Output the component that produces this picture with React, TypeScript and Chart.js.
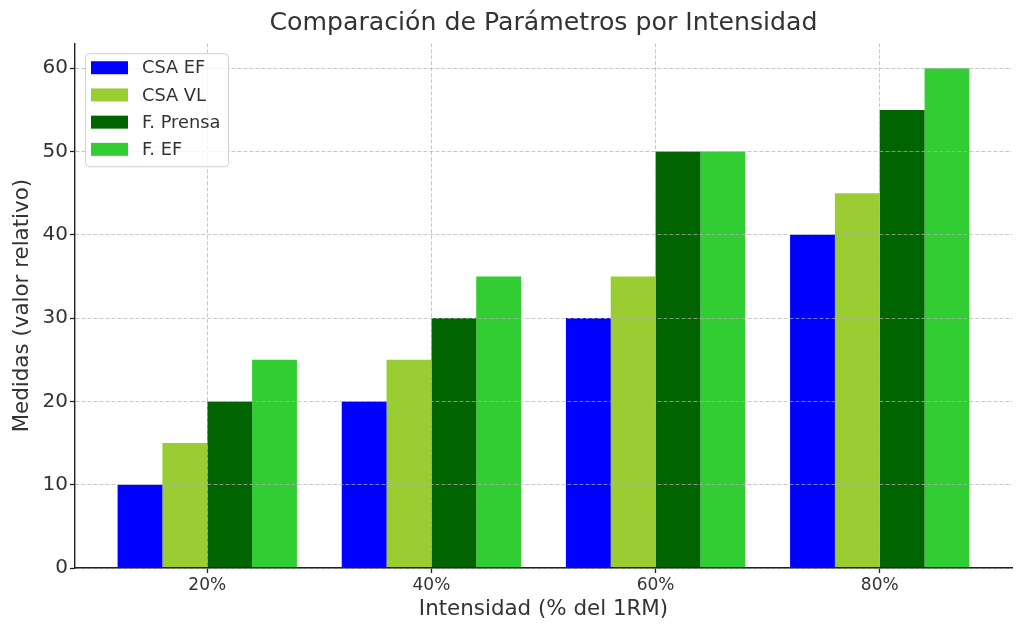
import React, { useEffect, useRef } from "react";
import { Chart, registerables } from "chart.js";

Chart.register(...registerables);

const CATEGORIES = ["20%", "40%", "60%", "80%"];
const SERIES_NAMES = ["CSA EF", "CSA VL", "F. Prensa", "F. EF"];
const CSA_EF = [10, 20, 30, 40];
const CSA_VL = [15, 25, 35, 45];
const F_PRENSA = [20, 30, 50, 55];
const F_EF = [25, 35, 50, 60];
const COLORS = ["#0000ff", "#9acd32", "#006400", "#32cd32"];
const Y_TICKS = [0, 10, 20, 30, 40, 50, 60];

const TEXT = "#333333";
const FONT = "DejaVu Sans";

const legendPlugin = {
  id: "mplLegend",
  afterDraw(chart: any) {
    const { ctx, chartArea } = chart;
    const x0 = chartArea.left + 10;
    const y0 = chartArea.top + 10;
    const w = 143;
    const h = 113;
    ctx.save();
    ctx.beginPath();
    ctx.roundRect(x0 + 0.5, y0 + 0.5, w, h, 4);
    ctx.fillStyle = "rgba(255,255,255,0.8)";
    ctx.fill();
    ctx.strokeStyle = "#d0d0d0";
    ctx.lineWidth = 1;
    ctx.stroke();
    ctx.font = `17.8px '${FONT}'`;
    ctx.textBaseline = "middle";
    ctx.textAlign = "left";
    chart.data.datasets.forEach((ds: any, i: number) => {
      const cy = y0 + 14.5 + i * 27.2;
      ctx.fillStyle = ds.backgroundColor;
      ctx.fillRect(x0 + 6, cy - 6.5, 37, 13);
      ctx.fillStyle = TEXT;
      ctx.fillText(ds.label, x0 + 57, cy + 1);
    });
    ctx.restore();
  },
};

export default function App() {
  const ref = useRef<HTMLCanvasElement>(null);
  useEffect(() => {
    if (!ref.current) return;
    Chart.defaults.font.family = FONT;
    Chart.defaults.color = TEXT;
    const seriesValues = [CSA_EF, CSA_VL, F_PRENSA, F_EF];
    const chart = new Chart(ref.current, {
      type: "bar",
      data: {
        datasets: SERIES_NAMES.map((name, s) => ({
          label: name,
          data: seriesValues[s].map((v, i) => ({ x: i, y: v })),
          backgroundColor: COLORS[s],
          borderWidth: 0,
          categoryPercentage: 0.8,
          barPercentage: 1.0,
        })),
      },
      options: {
        responsive: false,
        animation: false,
        layout: { padding: { left: 0, right: 12, top: 0, bottom: 0 } },
        plugins: {
          legend: { display: false },
          tooltip: { enabled: false },
          title: {
            display: true,
            text: "Comparación de Parámetros por Intensidad",
            fullSize: false,
            color: TEXT,
            font: { size: 25.2, weight: "normal", family: FONT },
            padding: { top: 8, bottom: 5 },
          },
        },
        scales: {
          x: {
            type: "linear",
            min: -0.59,
            max: 3.59,
            offset: false,
            afterBuildTicks: (axis: any) => {
              axis.ticks = CATEGORIES.map((_, i) => ({ value: i }));
            },
            afterFit: (scale: any) => {
              scale.height = 66;
            },
            ticks: {
              includeBounds: false,
              color: TEXT,
              font: { size: 17 },
              padding: 2,
              maxRotation: 0,
              callback: (v: any) => CATEGORIES[v] ?? "",
            },
            grid: {
              offset: false,
              z: 1,
              color: "rgba(176,176,176,0.7)",
              lineWidth: 1,
              tickLength: 5,
              tickColor: "#222222",
              tickWidth: 1.3,
              tickBorderDash: [],
            },
            border: { display: true, color: "#222222", width: 1.4, dash: [4, 2], z: 2 },
            title: {
              display: true,
              text: "Intensidad (% del 1RM)",
              color: TEXT,
              font: { size: 21.4 },
              padding: { top: 0, bottom: 12 },
            },
          },
          y: {
            type: "linear",
            min: 0,
            max: 63,
            afterBuildTicks: (axis: any) => {
              axis.ticks = Y_TICKS.map((v) => ({ value: v }));
            },
            afterFit: (scale: any) => {
              scale.width = 75;
            },
            ticks: {
              includeBounds: false,
              color: TEXT,
              font: { size: 20 },
              padding: 2,
            },
            grid: {
              z: 1,
              color: "rgba(176,176,176,0.7)",
              lineWidth: 1,
              tickLength: 5,
              tickColor: "#222222",
              tickWidth: 1.3,
              tickBorderDash: [],
            },
            border: { display: true, color: "#222222", width: 1.4, dash: [4, 2], z: 2 },
            title: {
              display: true,
              text: "Medidas (valor relativo)",
              color: TEXT,
              font: { size: 21.4 },
              padding: { top: 10, bottom: 0 },
            },
          },
        },
      },
      plugins: [legendPlugin],
    } as any);
    return () => chart.destroy();
  }, []);
  return (
    <div style={{ position: "absolute", left: 0, top: 0, width: 1024, height: 634, background: "#fff" }}>
      <canvas ref={ref} width={1024} height={634} style={{ display: "block" }} />
    </div>
  );
}
